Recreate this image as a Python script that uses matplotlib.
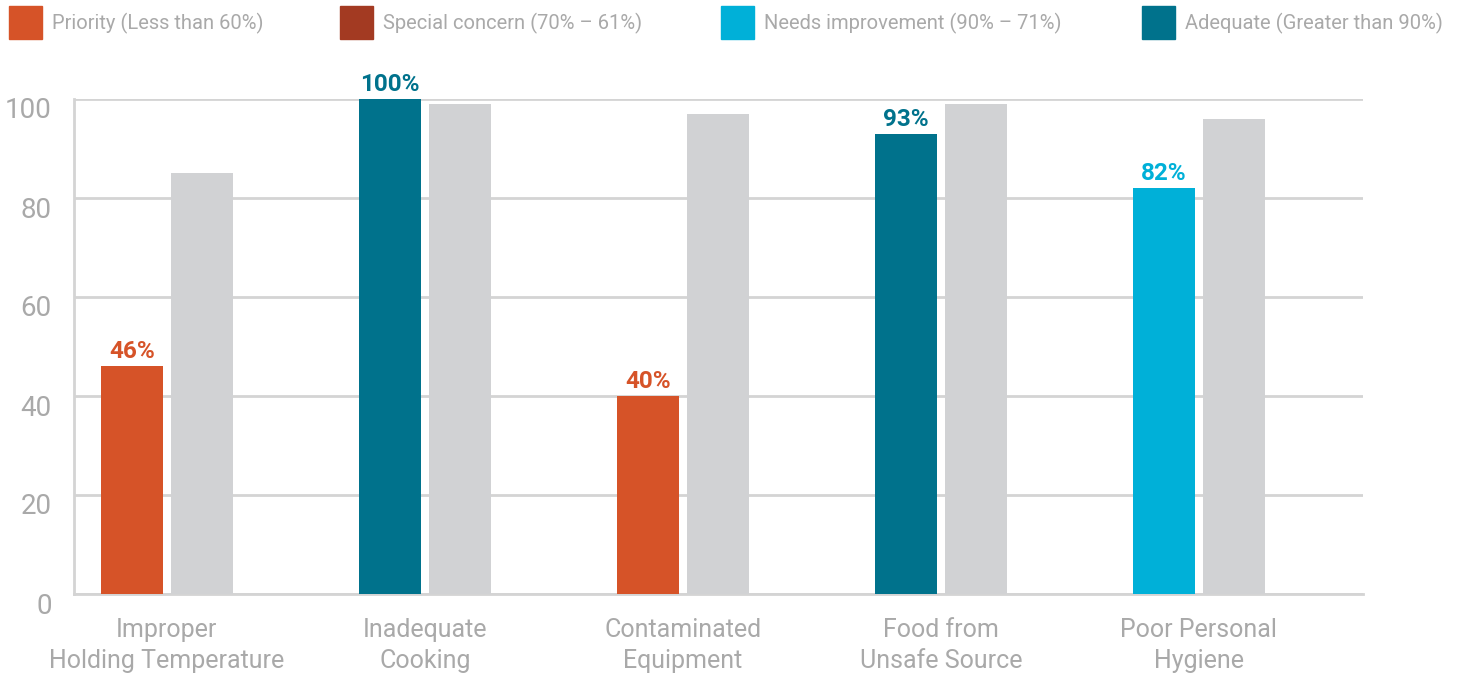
import numpy as np
import matplotlib.pyplot as plt
import matplotlib.transforms as mtransforms
from matplotlib.patches import Rectangle

plt.rcParams['font.family'] = ['Roboto', 'DejaVu Sans']

categories = ['Improper\nHolding Temperature', 'Inadequate\nCooking', 'Contaminated\nEquipment',
              'Food from\nUnsafe Source', 'Poor Personal\nHygiene']
scores = [46, 100, 40, 93, 82]
comparison = [85, 99, 97, 99, 96]
levels = ['Priority', 'Adequate', 'Priority', 'Adequate', 'Needs improvement']

legend_labels = ['Priority (Less than 60%)', 'Special concern (70% \u2013 61%)',
                 'Needs improvement (90% \u2013 71%)', 'Adequate (Greater than 90%)']
level_colors = {'Priority': '#D65328', 'Special concern': '#A33A22',
                'Needs improvement': '#00B0D8', 'Adequate': '#00728C'}
grey = '#D1D2D4'
text_grey = '#A9A9A9'

W, H = 1463, 677
fig = plt.figure(figsize=(W / 100, H / 100), dpi=100)
ax = fig.add_axes([74 / W, (H - 594) / H, (1363 - 74) / W, (594 - 99) / H])

x = np.arange(len(categories))
bw = 0.24
off = 0.136
colors = [level_colors[l] for l in levels]
ax.bar(x - off, scores, width=bw, color=colors, zorder=3)
ax.bar(x + off, comparison, width=bw, color=grey, zorder=3)

for xi, v, c in zip(x, scores, colors):
    ax.text(xi - off, v + 0.6, f'{v}%', ha='center', va='bottom', color=c,
            fontsize=17.5, fontweight='bold')

ax.set_xlim(-0.36, 4.636)
ax.set_ylim(0, 100)
ax.set_yticks([0, 20, 40, 60, 80, 100])
ax.yaxis.grid(True, color='#D4D4D4', linewidth=2, zorder=0)
ax.set_xticks(x)
ax.set_xticklabels(categories, fontsize=18, color=text_grey, linespacing=1.4)
ax.tick_params(axis='both', length=0)
ax.tick_params(axis='x', pad=17)
ax.tick_params(axis='y', pad=16, labelsize=20, labelcolor=text_grey)
shift = mtransforms.ScaledTranslation(0, -9 / 100, fig.dpi_scale_trans)
for lbl in ax.get_yticklabels():
    lbl.set_transform(lbl.get_transform() + shift)
for s in ['top', 'right']:
    ax.spines[s].set_visible(False)
for s in ['left', 'bottom']:
    ax.spines[s].set_color('#D4D4D4')
    ax.spines[s].set_linewidth(2)

# legend row
legend_x = [9, 340, 721, 1142]
for lx, lab, key in zip(legend_x, legend_labels, level_colors):
    fig.add_artist(Rectangle((lx / W, (H - 39) / H), 33 / W, 33 / H,
                             transform=fig.transFigure, color=level_colors[key]))
    fig.text((lx + 43) / W, (H - 23) / H, lab, fontsize=14.5, color=text_grey,
             ha='left', va='center')

fig.savefig('out.png', dpi=100)
